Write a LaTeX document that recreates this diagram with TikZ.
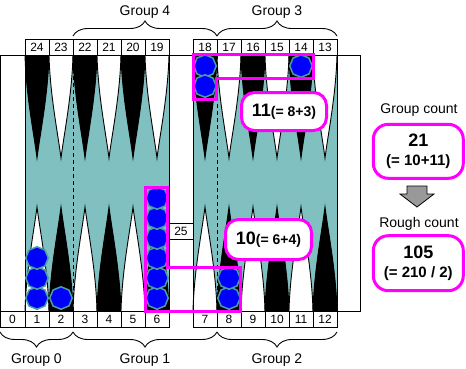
\documentclass[tikz,border=0pt]{standalone}
\usepackage{fontspec}
\setmainfont{Liberation Sans}
\usepackage{tikz}
\usetikzlibrary{decorations.pathreplacing}
\usetikzlibrary{positioning}
\usetikzlibrary{shapes.geometric}

\definecolor{felt}{RGB}{128,192,192}
\definecolor{rim}{RGB}{72,160,160}
\definecolor{mag}{RGB}{255,0,255}
\definecolor{stone}{RGB}{0,0,255}

\begin{document}
\begin{tikzpicture}[x=1pt,y=-1pt,node distance=0,line width=0.9pt,
    ptnum/.style={draw,fill=white,minimum width=24pt,minimum height=16pt,inner sep=0,outer sep=0,font=\fontsize{12}{12}\selectfont},
    checker/.style={regular polygon,regular polygon sides=8,shape border rotate=22.5,minimum size=22.5pt,inner sep=0,fill=stone,draw=rim,line width=1.5pt},
    bubble/.style={draw=mag,line width=3pt,rounded corners=13pt,fill=white,inner sep=0,align=center},
    hilite/.style={draw=mag,line width=3pt},
    grp/.style={font=\fontsize{14}{14}\selectfont},
    topbrace/.style={decorate,decoration={brace,amplitude=15pt}},
    botbrace/.style={decorate,decoration={brace,amplitude=15pt,mirror}},
  ]
  \fill[white] (0,0) rectangle (466,368);
  \useasboundingbox (0,0) rectangle (466,368);

  % Board and points
  \fill[felt] (25,55) rectangle (169,311);
  \fill[felt] (193,55) rectangle (337,311);
  \foreach \cx/\col in {37/black,61/white,85/black,109/white,133/black,157/white,205/black,229/white,253/black,277/white,301/black,325/white}
    \draw[fill=\col,shift={(\cx,55)}] (-12,0) .. controls (-11,40) and (-3,79) .. (0,103) .. controls (3,79) and (11,40) .. (12,0);
  \foreach \cx/\col in {37/white,61/black,85/white,109/black,133/white,157/black,205/white,229/black,253/white,277/black,301/white,325/black}
    \draw[fill=\col,shift={(\cx,311)}] (-12,0) .. controls (-11,-40) and (-3,-80) .. (0,-104) .. controls (3,-80) and (11,-40) .. (12,0);
  \draw[dashed,dash pattern=on 4pt off 3pt] (73,55) -- (73,311);
  \draw[dashed,dash pattern=on 4pt off 3pt] (217,55) -- (217,311);
  \draw (0.5,55) rectangle (360,311);
  \foreach \x in {25,169,193,337}
    \draw (\x,55) -- (\x,311);

  % Point numbers
  \node[ptnum] (n24) at (37,47) {24};
  \foreach \n [remember=\n as \prev (initially 24)] in {23,22,21,20,19}
    \node[ptnum,right=of n\prev] (n\n) {\n};
  \node[ptnum] (n18) at (205,47) {18};
  \foreach \n [remember=\n as \prev (initially 18)] in {17,16,15,14,13}
    \node[ptnum,right=of n\prev] (n\n) {\n};
  \node[ptnum,minimum width=25pt] (n0) at (12.5,319) {0};
  \foreach \n [remember=\n as \prev (initially 0)] in {1,...,6}
    \node[ptnum,right=of n\prev] (n\n) {\n};
  \node[ptnum] (n7) at (205,319) {7};
  \foreach \n [remember=\n as \prev (initially 7)] in {8,...,12}
    \node[ptnum,right=of n\prev] (n\n) {\n};
  \node[ptnum] (n25) at (181,231) {25};

  % Checkers
  \foreach \y [count=\i] in {298,278,258}
    \node[checker] (pt1c\i) at (37,\y) {};
  \node[checker] (pt2c1) at (61,298) {};
  \foreach \y [count=\i] in {298,278,258,238,218,198}
    \node[checker] (pt6c\i) at (157,\y) {};
  \foreach \y [count=\i] in {298,278}
    \node[checker] (pt8c\i) at (229,\y) {};
  \foreach \y [count=\i] in {66,86}
    \node[checker] (pt18c\i) at (205,\y) {};
  \node[checker] (pt14c1) at (301,66) {};

  % Highlighted groups
  \draw[hilite] (145,187.5) -- (167.5,187.5) -- (167.5,267) -- (240.5,267) -- (240.5,311) -- (145,311) -- cycle;
  \draw[hilite] (193,54.5) -- (313,54.5) -- (313,78.5) -- (216,78.5) -- (216,99) -- (193,99) -- cycle;
  \node[bubble,minimum width=85pt,minimum height=38pt] (cnt11) at (284,111.5)
    {\fontsize{18}{18}\selectfont\bfseries 11\fontsize{14}{14}\selectfont(= 8+3)};
  \node[bubble,minimum width=86pt,minimum height=40pt] (cnt10) at (268.5,239.5)
    {\fontsize{18}{18}\selectfont\bfseries 10\fontsize{14}{14}\selectfont(= 6+4)};

  % Group braces
  \draw[topbrace] ([yshift=3pt]n22.north west) -- ([yshift=3pt]n17.north west) node[grp,midway,anchor=base,yshift=21pt] {Group 4};
  \draw[topbrace] ([yshift=3pt]n17.north west) -- ([yshift=3pt]n13.north east) node[grp,midway,anchor=base,yshift=21pt] {Group 3};
  \draw[botbrace] ([yshift=-5pt]n0.south west) -- ([yshift=-5pt]n3.south west) node[grp,midway,anchor=base,yshift=-31pt] {Group 0};
  \draw[botbrace] ([yshift=-5pt]n3.south west) -- ([yshift=-5pt]n8.south west) node[grp,midway,anchor=base,yshift=-31pt] {Group 1};
  \draw[botbrace] ([yshift=-5pt]n8.south west) -- ([yshift=-5pt]n12.south east) node[grp,midway,anchor=base,yshift=-31pt] {Group 2};

  % Counts
  \node[grp,anchor=base] (gclabel) at (419,113) {Group count};
  \node[bubble,minimum width=90pt,minimum height=54pt,rounded corners=15pt] (gcount) at (418.3,151.3)
    {\fontsize{18}{18}\selectfont\bfseries 21\\[7pt]\fontsize{15}{15}\selectfont\bfseries(= 10+11)};
  \draw[fill=black!40,line width=0.8pt] (407,186) -- (427,186) -- (427,194) -- (434,194) -- (417,207) -- (400,194) -- (407,194) -- cycle;
  \node[grp,anchor=base] (rclabel) at (419,227) {Rough count};
  \node[bubble,minimum width=90pt,minimum height=55pt,rounded corners=15pt] (rcount) at (418.3,263.2)
    {\fontsize{18}{18}\selectfont\bfseries 105\\[7pt]\fontsize{15}{15}\selectfont\bfseries(= 210 / 2)};
\end{tikzpicture}
\end{document}
